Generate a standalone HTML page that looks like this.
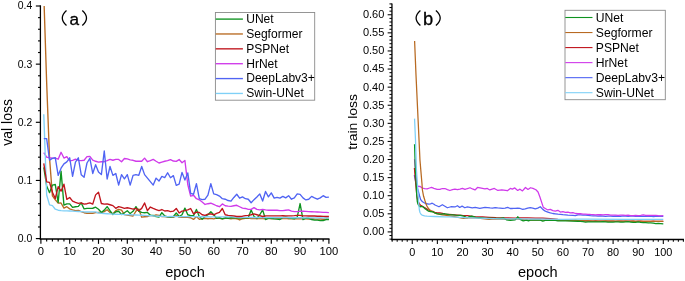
<!DOCTYPE html>
<html><head><meta charset="utf-8"><title>loss curves</title>
<style>
html,body{margin:0;padding:0;background:#fff;}
body{width:685px;height:281px;position:relative;overflow:hidden;font-family:"Liberation Sans",sans-serif;}
</style></head><body>
<svg width="685" height="281" viewBox="0 0 685 281" style="position:absolute;left:0;top:0;will-change:transform;opacity:0.9999">
<rect width="685" height="281" fill="#fff"/>
<defs><clipPath id="ca"><rect x="40.9" y="6" width="289" height="232.6"/></clipPath><clipPath id="cb"><rect x="391.9" y="3" width="293" height="236.5"/></clipPath></defs>
<g clip-path="url(#ca)">
<polyline points="43.78,-5.63 46.66,82.76 49.54,158.00 52.42,195.86 55.30,199.76 58.18,203.13 61.06,203.01 63.94,208.13 66.82,206.73 69.70,208.89 72.58,209.87 75.46,210.69 78.34,210.40 81.22,211.68 84.10,212.72 86.98,213.25 89.86,213.25 92.74,213.25 95.62,212.67 98.50,212.43 101.38,212.72 104.26,211.56 107.14,209.76 110.02,212.43 112.90,213.77 115.78,210.69 118.66,209.35 121.54,210.22 124.42,214.64 127.30,215.11 130.18,215.57 133.06,215.98 135.94,211.10 138.82,208.94 141.70,217.20 144.58,216.79 147.46,216.50 150.34,215.34 153.22,215.92 156.10,214.87 158.98,215.34 161.86,216.68 164.74,216.50 167.62,217.20 170.50,217.38 173.38,217.38 176.26,215.63 179.14,217.08 182.02,217.38 184.90,217.08 187.78,217.38 190.66,217.78 193.54,219.41 196.42,216.50 199.30,219.24 202.18,218.83 205.06,218.25 207.94,218.71 210.82,218.36 213.70,218.83 216.58,218.13 219.46,218.42 222.34,218.71 225.22,218.25 228.10,218.42 230.98,218.71 233.86,218.42 236.74,218.71 239.62,219.99 242.50,218.71 245.38,218.42 248.26,218.13 251.14,218.60 254.02,218.42 256.90,218.71 259.78,218.25 262.66,218.60 265.54,218.71 268.42,218.42 271.30,218.71 274.18,218.60 277.06,218.42 279.94,218.71 282.82,218.60 285.70,218.42 288.58,218.71 291.46,218.83 294.34,218.71 297.22,218.60 300.10,218.71 302.98,218.83 305.86,218.71 308.74,219.00 311.62,218.71 314.50,219.00 317.38,219.18 320.26,219.00 323.14,219.29 326.02,219.18 328.90,219.29" fill="none" stroke="#b86a22" stroke-width="1.35" stroke-linejoin="round" stroke-linecap="butt"/>
<polyline points="43.78,167.31 46.66,185.97 49.54,192.66 52.42,185.10 55.30,184.52 58.18,202.55 61.06,171.15 63.94,205.16 66.82,203.94 69.70,203.83 72.58,207.43 75.46,206.73 78.34,206.44 81.22,202.90 84.10,208.94 86.98,208.36 89.86,208.36 92.74,208.25 95.62,207.20 98.50,209.23 101.38,212.43 104.26,210.11 107.14,206.62 110.02,210.69 112.90,214.53 115.78,211.85 118.66,211.27 121.54,214.53 124.42,212.72 127.30,210.69 130.18,213.60 133.06,211.27 135.94,206.62 138.82,211.27 141.70,212.43 144.58,212.72 147.46,212.43 150.34,215.34 153.22,215.34 156.10,216.68 158.98,217.08 161.86,212.72 164.74,215.92 167.62,216.79 170.50,217.08 173.38,216.50 176.26,213.01 179.14,216.50 182.02,214.76 184.90,208.13 187.78,214.76 190.66,215.63 193.54,215.63 196.42,209.41 199.30,216.50 202.18,219.18 205.06,216.50 207.94,214.76 210.82,211.68 213.70,214.76 216.58,218.25 219.46,217.67 222.34,218.83 225.22,217.78 228.10,218.25 230.98,217.78 233.86,217.78 236.74,217.78 239.62,217.96 242.50,217.67 245.38,217.78 248.26,217.78 251.14,209.93 254.02,216.50 256.90,218.25 259.78,214.76 262.66,209.93 265.54,219.53 268.42,218.25 271.30,218.25 274.18,218.83 277.06,219.12 279.94,219.53 282.82,217.43 285.70,217.08 288.58,217.78 291.46,218.25 294.34,218.83 297.22,217.08 300.10,203.54 302.98,219.53 305.86,218.25 308.74,218.25 311.62,219.53 314.50,220.05 317.38,220.05 320.26,220.57 323.14,220.57 326.02,219.53 328.90,219.53" fill="none" stroke="#0e9320" stroke-width="1.35" stroke-linejoin="round" stroke-linecap="butt"/>
<polyline points="43.78,152.54 46.66,157.19 49.54,157.77 52.42,158.06 55.30,158.06 58.18,159.23 61.06,152.31 63.94,158.06 66.82,156.61 69.70,160.85 72.58,160.33 75.46,159.23 78.34,160.33 81.22,160.68 84.10,160.27 86.98,156.61 89.86,156.32 92.74,160.10 95.62,161.26 98.50,162.13 101.38,161.73 104.26,161.73 107.14,160.68 110.02,159.40 112.90,160.27 115.78,159.40 118.66,159.40 121.54,161.73 124.42,158.47 127.30,158.93 130.18,159.92 133.06,160.27 135.94,161.26 138.82,161.26 141.70,161.26 144.58,158.12 147.46,161.73 150.34,160.68 153.22,159.40 156.10,161.26 158.98,163.00 161.86,162.07 164.74,161.26 167.62,160.68 170.50,159.57 173.38,161.03 176.26,161.38 179.14,159.57 182.02,162.77 184.90,160.50 187.78,184.52 190.66,196.15 193.54,195.28 196.42,198.71 199.30,199.81 202.18,201.97 205.06,204.47 207.94,203.71 210.82,203.24 213.70,204.47 216.58,205.75 219.46,206.73 222.34,203.94 225.22,205.75 228.10,206.15 230.98,206.44 233.86,205.75 236.74,205.28 239.62,206.73 242.50,208.13 245.38,208.48 248.26,209.41 251.14,209.41 254.02,207.61 256.90,209.41 259.78,209.93 262.66,209.41 265.54,209.93 268.42,210.28 271.30,210.28 274.18,210.28 277.06,210.28 279.94,210.63 282.82,210.63 285.70,210.28 288.58,209.93 291.46,211.15 294.34,211.68 297.22,211.68 300.10,211.15 302.98,211.27 305.86,211.39 308.74,211.56 311.62,211.73 314.50,211.85 317.38,211.97 320.26,212.14 323.14,212.32 326.02,212.43 328.90,212.61" fill="none" stroke="#d03aea" stroke-width="1.35" stroke-linejoin="round" stroke-linecap="butt"/>
<polyline points="43.78,114.16 46.66,194.99 49.54,204.87 52.42,205.63 55.30,209.23 58.18,210.22 61.06,210.57 63.94,210.80 66.82,210.92 69.70,211.04 72.58,211.20 75.46,211.36 78.34,211.52 81.22,211.68 84.10,211.82 86.98,211.97 89.86,211.91 92.74,211.85 95.62,211.85 98.50,213.01 101.38,213.30 104.26,213.51 107.14,213.71 110.02,213.92 112.90,214.12 115.78,214.23 118.66,214.34 121.54,214.45 124.42,214.56 127.30,214.67 130.18,214.78 133.06,214.89 135.94,215.00 138.82,215.11 141.70,215.26 144.58,215.42 147.46,215.58 150.34,215.74 153.22,215.89 156.10,216.05 158.98,216.21 161.86,216.36 164.74,216.52 167.62,216.68 170.50,216.50 173.38,216.52 176.26,216.55 179.14,216.57 182.02,216.59 184.90,216.61 187.78,216.63 190.66,216.65 193.54,216.67 196.42,216.69 199.30,216.71 202.18,216.74 205.06,216.76 207.94,216.78 210.82,216.80 213.70,216.82 216.58,216.84 219.46,216.86 222.34,216.88 225.22,216.90 228.10,216.93 230.98,216.95 233.86,216.97 236.74,217.38 239.62,217.39 242.50,217.41 245.38,217.43 248.26,217.45 251.14,217.47 254.02,217.48 256.90,217.50 259.78,217.52 262.66,217.54 265.54,217.56 268.42,217.58 271.30,217.59 274.18,217.61 277.06,217.63 279.94,217.65 282.82,217.67 285.70,217.68 288.58,217.70 291.46,217.72 294.34,217.74 297.22,217.76 300.10,217.78 302.98,217.79 305.86,217.81 308.74,217.83 311.62,217.85 314.50,217.87 317.38,217.88 320.26,217.90 323.14,217.92 326.02,217.94 328.90,217.96" fill="none" stroke="#7fd0f7" stroke-width="1.35" stroke-linejoin="round" stroke-linecap="butt"/>
<polyline points="43.78,163.30 46.66,181.79 49.54,182.37 52.42,192.20 55.30,198.48 58.18,186.61 61.06,191.15 63.94,184.17 66.82,199.35 69.70,197.55 72.58,201.09 75.46,202.37 78.34,203.42 81.22,202.90 84.10,204.12 86.98,203.71 89.86,202.90 92.74,204.12 95.62,194.87 98.50,192.20 101.38,203.48 104.26,204.18 107.14,203.83 110.02,204.76 112.90,205.63 115.78,208.36 118.66,206.62 121.54,207.43 124.42,208.36 127.30,207.78 130.18,208.36 133.06,209.18 135.94,208.36 138.82,210.69 141.70,208.36 144.58,202.95 147.46,210.69 150.34,207.02 153.22,208.36 156.10,209.52 158.98,210.69 161.86,209.52 164.74,210.98 167.62,210.69 170.50,211.68 173.38,211.15 176.26,208.48 179.14,212.96 182.02,211.15 184.90,210.63 187.78,209.93 190.66,208.48 193.54,213.83 196.42,212.08 199.30,212.43 202.18,214.76 205.06,215.34 207.94,214.18 210.82,213.83 213.70,214.76 216.58,213.48 219.46,212.43 222.34,208.48 225.22,214.76 228.10,215.34 230.98,215.63 233.86,215.92 236.74,216.50 239.62,216.50 242.50,216.21 245.38,215.63 248.26,215.34 251.14,214.76 254.02,213.83 256.90,214.76 259.78,215.63 262.66,216.50 265.54,215.92 268.42,215.92 271.30,215.81 274.18,215.81 277.06,215.92 279.94,215.81 282.82,215.63 285.70,215.81 288.58,215.92 291.46,215.81 294.34,215.63 297.22,215.34 300.10,215.34 302.98,215.92 305.86,215.92 308.74,216.04 311.62,215.92 314.50,216.04 317.38,216.21 320.26,216.21 323.14,216.39 326.02,216.50 328.90,216.50" fill="none" stroke="#c0141c" stroke-width="1.35" stroke-linejoin="round" stroke-linecap="butt"/>
<polyline points="43.78,138.58 46.66,138.58 49.54,160.10 52.42,158.35 55.30,157.77 58.18,175.39 61.06,168.24 63.94,163.82 66.82,161.84 69.70,157.77 72.58,176.38 75.46,162.13 78.34,157.77 81.22,174.63 84.10,177.19 86.98,163.00 89.86,158.35 92.74,173.47 95.62,164.75 98.50,171.90 101.38,174.63 104.26,151.03 107.14,179.00 110.02,166.49 112.90,175.39 115.78,173.47 118.66,185.10 121.54,174.63 124.42,178.88 127.30,174.63 130.18,185.10 133.06,175.33 135.94,174.63 138.82,175.33 141.70,166.49 144.58,174.63 147.46,178.12 150.34,181.61 153.22,185.10 156.10,178.12 158.98,181.03 161.86,176.38 164.74,177.54 167.62,172.77 170.50,177.78 173.38,175.62 176.26,185.39 179.14,184.17 182.02,172.43 184.90,180.10 187.78,172.95 190.66,193.36 193.54,194.23 196.42,183.59 199.30,198.71 202.18,199.64 205.06,199.23 207.94,195.16 210.82,183.59 213.70,193.88 216.58,194.58 219.46,196.03 222.34,198.71 225.22,199.23 228.10,200.51 230.98,201.21 233.86,197.43 236.74,194.23 239.62,198.19 242.50,196.91 245.38,198.71 248.26,199.23 251.14,202.78 254.02,199.64 256.90,196.91 259.78,193.88 262.66,201.04 265.54,191.50 268.42,196.91 271.30,192.84 274.18,198.19 277.06,197.43 279.94,198.19 282.82,196.38 285.70,197.89 288.58,195.69 291.46,199.23 294.34,197.89 297.22,193.88 300.10,194.41 302.98,197.89 305.86,199.93 308.74,199.23 311.62,196.38 314.50,197.89 317.38,199.23 320.26,197.89 323.14,195.69 326.02,197.43 328.90,197.08" fill="none" stroke="#5064f3" stroke-width="1.35" stroke-linejoin="round" stroke-linecap="butt"/>
</g>
<g stroke="#000" stroke-width="1.15" fill="none" stroke-linecap="butt">
<line x1="40.40" y1="5.3" x2="40.40" y2="239.65" stroke-width="1.3"/>
<line x1="39.75" y1="239.00" x2="329.5" y2="239.00" stroke-width="1.3"/>
<line x1="35.85" y1="238.60" x2="40.40" y2="238.60"/>
<line x1="38.05" y1="226.97" x2="40.40" y2="226.97"/>
<line x1="38.05" y1="215.34" x2="40.40" y2="215.34"/>
<line x1="38.05" y1="203.71" x2="40.40" y2="203.71"/>
<line x1="38.05" y1="192.08" x2="40.40" y2="192.08"/>
<line x1="35.85" y1="180.45" x2="40.40" y2="180.45"/>
<line x1="38.05" y1="168.82" x2="40.40" y2="168.82"/>
<line x1="38.05" y1="157.19" x2="40.40" y2="157.19"/>
<line x1="38.05" y1="145.56" x2="40.40" y2="145.56"/>
<line x1="38.05" y1="133.93" x2="40.40" y2="133.93"/>
<line x1="35.85" y1="122.30" x2="40.40" y2="122.30"/>
<line x1="38.05" y1="110.67" x2="40.40" y2="110.67"/>
<line x1="38.05" y1="99.04" x2="40.40" y2="99.04"/>
<line x1="38.05" y1="87.41" x2="40.40" y2="87.41"/>
<line x1="38.05" y1="75.78" x2="40.40" y2="75.78"/>
<line x1="35.85" y1="64.15" x2="40.40" y2="64.15"/>
<line x1="38.05" y1="52.52" x2="40.40" y2="52.52"/>
<line x1="38.05" y1="40.89" x2="40.40" y2="40.89"/>
<line x1="38.05" y1="29.26" x2="40.40" y2="29.26"/>
<line x1="38.05" y1="17.63" x2="40.40" y2="17.63"/>
<line x1="35.85" y1="6.00" x2="40.40" y2="6.00"/>
<line x1="40.90" y1="239.00" x2="40.90" y2="243.85"/>
<line x1="46.66" y1="239.00" x2="46.66" y2="241.40"/>
<line x1="52.42" y1="239.00" x2="52.42" y2="241.40"/>
<line x1="58.18" y1="239.00" x2="58.18" y2="241.40"/>
<line x1="63.94" y1="239.00" x2="63.94" y2="241.40"/>
<line x1="69.70" y1="239.00" x2="69.70" y2="243.85"/>
<line x1="75.46" y1="239.00" x2="75.46" y2="241.40"/>
<line x1="81.22" y1="239.00" x2="81.22" y2="241.40"/>
<line x1="86.98" y1="239.00" x2="86.98" y2="241.40"/>
<line x1="92.74" y1="239.00" x2="92.74" y2="241.40"/>
<line x1="98.50" y1="239.00" x2="98.50" y2="243.85"/>
<line x1="104.26" y1="239.00" x2="104.26" y2="241.40"/>
<line x1="110.02" y1="239.00" x2="110.02" y2="241.40"/>
<line x1="115.78" y1="239.00" x2="115.78" y2="241.40"/>
<line x1="121.54" y1="239.00" x2="121.54" y2="241.40"/>
<line x1="127.30" y1="239.00" x2="127.30" y2="243.85"/>
<line x1="133.06" y1="239.00" x2="133.06" y2="241.40"/>
<line x1="138.82" y1="239.00" x2="138.82" y2="241.40"/>
<line x1="144.58" y1="239.00" x2="144.58" y2="241.40"/>
<line x1="150.34" y1="239.00" x2="150.34" y2="241.40"/>
<line x1="156.10" y1="239.00" x2="156.10" y2="243.85"/>
<line x1="161.86" y1="239.00" x2="161.86" y2="241.40"/>
<line x1="167.62" y1="239.00" x2="167.62" y2="241.40"/>
<line x1="173.38" y1="239.00" x2="173.38" y2="241.40"/>
<line x1="179.14" y1="239.00" x2="179.14" y2="241.40"/>
<line x1="184.90" y1="239.00" x2="184.90" y2="243.85"/>
<line x1="190.66" y1="239.00" x2="190.66" y2="241.40"/>
<line x1="196.42" y1="239.00" x2="196.42" y2="241.40"/>
<line x1="202.18" y1="239.00" x2="202.18" y2="241.40"/>
<line x1="207.94" y1="239.00" x2="207.94" y2="241.40"/>
<line x1="213.70" y1="239.00" x2="213.70" y2="243.85"/>
<line x1="219.46" y1="239.00" x2="219.46" y2="241.40"/>
<line x1="225.22" y1="239.00" x2="225.22" y2="241.40"/>
<line x1="230.98" y1="239.00" x2="230.98" y2="241.40"/>
<line x1="236.74" y1="239.00" x2="236.74" y2="241.40"/>
<line x1="242.50" y1="239.00" x2="242.50" y2="243.85"/>
<line x1="248.26" y1="239.00" x2="248.26" y2="241.40"/>
<line x1="254.02" y1="239.00" x2="254.02" y2="241.40"/>
<line x1="259.78" y1="239.00" x2="259.78" y2="241.40"/>
<line x1="265.54" y1="239.00" x2="265.54" y2="241.40"/>
<line x1="271.30" y1="239.00" x2="271.30" y2="243.85"/>
<line x1="277.06" y1="239.00" x2="277.06" y2="241.40"/>
<line x1="282.82" y1="239.00" x2="282.82" y2="241.40"/>
<line x1="288.58" y1="239.00" x2="288.58" y2="241.40"/>
<line x1="294.34" y1="239.00" x2="294.34" y2="241.40"/>
<line x1="300.10" y1="239.00" x2="300.10" y2="243.85"/>
<line x1="305.86" y1="239.00" x2="305.86" y2="241.40"/>
<line x1="311.62" y1="239.00" x2="311.62" y2="241.40"/>
<line x1="317.38" y1="239.00" x2="317.38" y2="241.40"/>
<line x1="323.14" y1="239.00" x2="323.14" y2="241.40"/>
<line x1="328.90" y1="239.00" x2="328.90" y2="243.85"/>
</g>
<g stroke="#000" stroke-width="1.05" fill="none" stroke-linecap="butt">
<line x1="391.95" y1="3.4" x2="391.95" y2="240.15" stroke-width="1.3"/>
<line x1="391.30" y1="239.50" x2="683.96" y2="239.50" stroke-width="1.3"/>
<line x1="389.45" y1="239.14" x2="391.95" y2="239.14"/>
<line x1="389.45" y1="235.52" x2="391.95" y2="235.52"/>
<line x1="387.65" y1="231.90" x2="391.95" y2="231.90"/>
<line x1="389.45" y1="228.28" x2="391.95" y2="228.28"/>
<line x1="389.45" y1="224.66" x2="391.95" y2="224.66"/>
<line x1="389.45" y1="221.04" x2="391.95" y2="221.04"/>
<line x1="389.45" y1="217.42" x2="391.95" y2="217.42"/>
<line x1="387.65" y1="213.81" x2="391.95" y2="213.81"/>
<line x1="389.45" y1="210.19" x2="391.95" y2="210.19"/>
<line x1="389.45" y1="206.57" x2="391.95" y2="206.57"/>
<line x1="389.45" y1="202.95" x2="391.95" y2="202.95"/>
<line x1="389.45" y1="199.33" x2="391.95" y2="199.33"/>
<line x1="387.65" y1="195.71" x2="391.95" y2="195.71"/>
<line x1="389.45" y1="192.09" x2="391.95" y2="192.09"/>
<line x1="389.45" y1="188.47" x2="391.95" y2="188.47"/>
<line x1="389.45" y1="184.85" x2="391.95" y2="184.85"/>
<line x1="389.45" y1="181.23" x2="391.95" y2="181.23"/>
<line x1="387.65" y1="177.62" x2="391.95" y2="177.62"/>
<line x1="389.45" y1="174.00" x2="391.95" y2="174.00"/>
<line x1="389.45" y1="170.38" x2="391.95" y2="170.38"/>
<line x1="389.45" y1="166.76" x2="391.95" y2="166.76"/>
<line x1="389.45" y1="163.14" x2="391.95" y2="163.14"/>
<line x1="387.65" y1="159.52" x2="391.95" y2="159.52"/>
<line x1="389.45" y1="155.90" x2="391.95" y2="155.90"/>
<line x1="389.45" y1="152.28" x2="391.95" y2="152.28"/>
<line x1="389.45" y1="148.66" x2="391.95" y2="148.66"/>
<line x1="389.45" y1="145.04" x2="391.95" y2="145.04"/>
<line x1="387.65" y1="141.43" x2="391.95" y2="141.43"/>
<line x1="389.45" y1="137.81" x2="391.95" y2="137.81"/>
<line x1="389.45" y1="134.19" x2="391.95" y2="134.19"/>
<line x1="389.45" y1="130.57" x2="391.95" y2="130.57"/>
<line x1="389.45" y1="126.95" x2="391.95" y2="126.95"/>
<line x1="387.65" y1="123.33" x2="391.95" y2="123.33"/>
<line x1="389.45" y1="119.71" x2="391.95" y2="119.71"/>
<line x1="389.45" y1="116.09" x2="391.95" y2="116.09"/>
<line x1="389.45" y1="112.47" x2="391.95" y2="112.47"/>
<line x1="389.45" y1="108.85" x2="391.95" y2="108.85"/>
<line x1="387.65" y1="105.23" x2="391.95" y2="105.23"/>
<line x1="389.45" y1="101.62" x2="391.95" y2="101.62"/>
<line x1="389.45" y1="98.00" x2="391.95" y2="98.00"/>
<line x1="389.45" y1="94.38" x2="391.95" y2="94.38"/>
<line x1="389.45" y1="90.76" x2="391.95" y2="90.76"/>
<line x1="387.65" y1="87.14" x2="391.95" y2="87.14"/>
<line x1="389.45" y1="83.52" x2="391.95" y2="83.52"/>
<line x1="389.45" y1="79.90" x2="391.95" y2="79.90"/>
<line x1="389.45" y1="76.28" x2="391.95" y2="76.28"/>
<line x1="389.45" y1="72.66" x2="391.95" y2="72.66"/>
<line x1="387.65" y1="69.05" x2="391.95" y2="69.05"/>
<line x1="389.45" y1="65.43" x2="391.95" y2="65.43"/>
<line x1="389.45" y1="61.81" x2="391.95" y2="61.81"/>
<line x1="389.45" y1="58.19" x2="391.95" y2="58.19"/>
<line x1="389.45" y1="54.57" x2="391.95" y2="54.57"/>
<line x1="387.65" y1="50.95" x2="391.95" y2="50.95"/>
<line x1="389.45" y1="47.33" x2="391.95" y2="47.33"/>
<line x1="389.45" y1="43.71" x2="391.95" y2="43.71"/>
<line x1="389.45" y1="40.09" x2="391.95" y2="40.09"/>
<line x1="389.45" y1="36.47" x2="391.95" y2="36.47"/>
<line x1="387.65" y1="32.85" x2="391.95" y2="32.85"/>
<line x1="389.45" y1="29.24" x2="391.95" y2="29.24"/>
<line x1="389.45" y1="25.62" x2="391.95" y2="25.62"/>
<line x1="389.45" y1="22.00" x2="391.95" y2="22.00"/>
<line x1="389.45" y1="18.38" x2="391.95" y2="18.38"/>
<line x1="387.65" y1="14.76" x2="391.95" y2="14.76"/>
<line x1="389.45" y1="11.14" x2="391.95" y2="11.14"/>
<line x1="389.45" y1="7.52" x2="391.95" y2="7.52"/>
<line x1="389.45" y1="3.90" x2="391.95" y2="3.90"/>
<line x1="392.17" y1="239.50" x2="392.17" y2="241.70"/>
<line x1="397.19" y1="239.50" x2="397.19" y2="241.70"/>
<line x1="402.21" y1="239.50" x2="402.21" y2="241.70"/>
<line x1="407.23" y1="239.50" x2="407.23" y2="241.70"/>
<line x1="412.25" y1="239.50" x2="412.25" y2="243.90"/>
<line x1="417.27" y1="239.50" x2="417.27" y2="241.70"/>
<line x1="422.29" y1="239.50" x2="422.29" y2="241.70"/>
<line x1="427.31" y1="239.50" x2="427.31" y2="241.70"/>
<line x1="432.33" y1="239.50" x2="432.33" y2="241.70"/>
<line x1="437.36" y1="239.50" x2="437.36" y2="243.90"/>
<line x1="442.38" y1="239.50" x2="442.38" y2="241.70"/>
<line x1="447.40" y1="239.50" x2="447.40" y2="241.70"/>
<line x1="452.42" y1="239.50" x2="452.42" y2="241.70"/>
<line x1="457.44" y1="239.50" x2="457.44" y2="241.70"/>
<line x1="462.46" y1="239.50" x2="462.46" y2="243.90"/>
<line x1="467.48" y1="239.50" x2="467.48" y2="241.70"/>
<line x1="472.50" y1="239.50" x2="472.50" y2="241.70"/>
<line x1="477.52" y1="239.50" x2="477.52" y2="241.70"/>
<line x1="482.54" y1="239.50" x2="482.54" y2="241.70"/>
<line x1="487.56" y1="239.50" x2="487.56" y2="243.90"/>
<line x1="492.59" y1="239.50" x2="492.59" y2="241.70"/>
<line x1="497.61" y1="239.50" x2="497.61" y2="241.70"/>
<line x1="502.63" y1="239.50" x2="502.63" y2="241.70"/>
<line x1="507.65" y1="239.50" x2="507.65" y2="241.70"/>
<line x1="512.67" y1="239.50" x2="512.67" y2="243.90"/>
<line x1="517.69" y1="239.50" x2="517.69" y2="241.70"/>
<line x1="522.71" y1="239.50" x2="522.71" y2="241.70"/>
<line x1="527.73" y1="239.50" x2="527.73" y2="241.70"/>
<line x1="532.75" y1="239.50" x2="532.75" y2="241.70"/>
<line x1="537.77" y1="239.50" x2="537.77" y2="243.90"/>
<line x1="542.80" y1="239.50" x2="542.80" y2="241.70"/>
<line x1="547.82" y1="239.50" x2="547.82" y2="241.70"/>
<line x1="552.84" y1="239.50" x2="552.84" y2="241.70"/>
<line x1="557.86" y1="239.50" x2="557.86" y2="241.70"/>
<line x1="562.88" y1="239.50" x2="562.88" y2="243.90"/>
<line x1="567.90" y1="239.50" x2="567.90" y2="241.70"/>
<line x1="572.92" y1="239.50" x2="572.92" y2="241.70"/>
<line x1="577.94" y1="239.50" x2="577.94" y2="241.70"/>
<line x1="582.96" y1="239.50" x2="582.96" y2="241.70"/>
<line x1="587.99" y1="239.50" x2="587.99" y2="243.90"/>
<line x1="593.01" y1="239.50" x2="593.01" y2="241.70"/>
<line x1="598.03" y1="239.50" x2="598.03" y2="241.70"/>
<line x1="603.05" y1="239.50" x2="603.05" y2="241.70"/>
<line x1="608.07" y1="239.50" x2="608.07" y2="241.70"/>
<line x1="613.09" y1="239.50" x2="613.09" y2="243.90"/>
<line x1="618.11" y1="239.50" x2="618.11" y2="241.70"/>
<line x1="623.13" y1="239.50" x2="623.13" y2="241.70"/>
<line x1="628.15" y1="239.50" x2="628.15" y2="241.70"/>
<line x1="633.17" y1="239.50" x2="633.17" y2="241.70"/>
<line x1="638.19" y1="239.50" x2="638.19" y2="243.90"/>
<line x1="643.22" y1="239.50" x2="643.22" y2="241.70"/>
<line x1="648.24" y1="239.50" x2="648.24" y2="241.70"/>
<line x1="653.26" y1="239.50" x2="653.26" y2="241.70"/>
<line x1="658.28" y1="239.50" x2="658.28" y2="241.70"/>
<line x1="663.30" y1="239.50" x2="663.30" y2="243.90"/>
<line x1="668.32" y1="239.50" x2="668.32" y2="241.70"/>
<line x1="673.34" y1="239.50" x2="673.34" y2="241.70"/>
<line x1="678.36" y1="239.50" x2="678.36" y2="241.70"/>
<line x1="683.38" y1="239.50" x2="683.38" y2="241.70"/>
</g>
<g clip-path="url(#cb)">
<polyline points="414.30,175.10 416.00,183.00 417.50,188.50 418.50,191.80 419.60,196.00 420.60,199.50 422.50,201.80 425.40,203.50 428.80,204.10 430.50,203.80 432.20,203.20 434.00,204.20 435.00,204.97 438.99,206.74 442.38,204.75 447.40,207.76 450.91,206.74 454.93,206.96 457.44,205.76 459.70,207.47 462.08,206.16 464.87,207.76 467.36,206.96 472.25,207.94 475.26,207.47 479.78,208.45 485.05,207.47 487.56,207.58 490.08,207.94 492.59,208.12 495.10,207.58 497.61,207.94 500.12,208.12 502.63,208.49 505.14,208.12 507.65,207.40 510.16,208.49 512.67,208.49 515.18,208.31 517.69,208.12 520.20,208.49 522.71,209.39 525.22,208.85 527.73,208.12 530.24,207.62 532.75,208.12 535.26,208.85 537.77,208.12 540.29,206.71 542.80,209.39 545.31,211.17 547.82,212.04 550.33,212.95 552.84,213.50 555.35,213.86 557.86,214.19 560.37,214.37 562.88,214.73 567.90,215.09 572.92,215.27 575.43,215.64 577.94,214.84 580.45,214.95 582.96,215.03 585.47,215.05 587.99,215.42 590.50,215.70 593.01,215.84 595.52,215.90 598.03,216.22 600.54,215.95 603.05,216.17 605.56,216.38 608.07,216.17 610.58,216.15 613.09,216.40 615.60,216.08 618.11,216.42 620.62,216.42 623.13,215.99 625.64,216.18 628.15,216.27 630.66,216.24 633.17,216.22 635.68,216.41 638.19,216.24 640.71,216.29 643.22,216.48 645.73,216.28 648.24,216.39 650.75,216.22 653.26,216.50 655.77,216.43 658.28,216.25 660.79,216.19 663.30,216.43" fill="none" stroke="#5064f3" stroke-width="1.27" stroke-linejoin="round" stroke-linecap="butt"/>
<polyline points="414.50,159.20 415.50,171.00 416.80,182.00 417.50,185.50 418.00,186.30 420.20,186.50 422.20,188.00 424.60,188.60 427.10,188.80 429.60,188.00 431.60,187.40 433.90,188.30 437.15,189.30 439.87,189.36 442.38,188.52 444.89,188.52 447.40,189.57 449.91,190.52 452.42,189.61 454.93,189.07 457.44,189.61 459.95,189.07 462.46,188.34 464.97,189.43 467.48,188.52 469.99,187.76 472.50,188.96 475.01,189.94 477.52,187.47 480.03,187.94 484.93,188.96 487.31,188.45 489.82,189.94 494.34,188.45 497.86,190.45 501.87,189.76 507.40,190.74 510.34,188.45 512.32,189.14 514.80,187.94 517.69,190.45 520.00,189.17 522.46,190.95 525.47,187.47 527.98,189.47 530.49,187.76 532.93,188.45 535.92,189.76 538.03,191.97 539.91,196.94 543.30,207.40 545.31,208.49 547.82,209.94 550.33,209.39 552.84,210.66 555.35,211.17 557.86,210.30 560.37,212.04 562.88,211.72 565.39,212.41 567.90,212.04 570.41,212.95 572.92,212.59 575.43,213.50 577.94,213.75 580.45,213.57 582.96,214.04 585.47,214.17 587.99,214.29 590.50,214.44 593.01,214.53 595.52,214.85 598.03,214.55 600.54,214.75 603.05,214.92 605.56,214.65 608.07,214.63 610.58,215.07 613.09,215.16 615.60,215.09 618.11,215.29 620.62,215.12 623.13,215.17 625.64,215.26 628.15,215.19 630.66,215.55 633.17,215.53 635.68,215.36 638.19,215.54 640.71,215.40 643.22,214.98 645.73,215.37 648.24,215.50 650.75,215.30 653.26,215.48 655.77,215.36 658.28,215.63 660.79,215.83 663.30,215.69" fill="none" stroke="#d03aea" stroke-width="1.27" stroke-linejoin="round" stroke-linecap="butt"/>
<polyline points="414.40,168.00 415.90,186.00 416.80,195.00 417.60,199.50 418.50,202.00 419.60,204.20 421.00,205.60 422.50,206.40 424.00,207.20 425.40,208.10 428.20,209.90 430.50,210.80 432.80,211.30 434.60,212.40 437.15,212.80 439.87,212.99 442.38,213.28 444.89,214.19 452.42,214.69 457.44,215.02 462.46,215.42 467.48,215.56 475.77,216.76 482.54,216.76 489.07,217.27 496.10,217.74 506.39,217.78 515.18,218.03 520.20,217.78 527.73,217.92 535.26,218.11 542.80,218.11 550.33,218.65 557.86,219.49 560.37,219.63 562.88,219.96 565.39,220.02 567.90,220.37 570.41,220.36 572.92,220.34 575.43,220.49 577.94,220.64 580.45,220.59 582.96,220.85 585.47,220.85 587.99,220.96 590.50,221.10 593.01,221.04 595.52,220.98 598.03,221.03 600.54,221.14 603.05,221.13 605.56,221.19 608.07,221.12 610.58,221.19 613.09,221.10 615.60,221.26 618.11,221.21 620.62,221.20 623.13,221.25 625.64,221.12 628.15,221.15 630.66,221.24 633.17,221.15 635.68,221.27 638.19,221.13 640.71,221.24 643.22,221.31 645.73,221.33 648.24,221.35 650.75,221.41 653.26,221.25 655.77,221.34 658.28,221.44 660.79,221.32 663.30,221.32" fill="none" stroke="#c0141c" stroke-width="1.27" stroke-linejoin="round" stroke-linecap="butt"/>
<polyline points="414.60,41.00 416.00,75.00 418.20,122.00 419.95,160.00 420.80,170.00 422.00,184.00 422.40,190.00 423.60,196.30 424.90,200.50 425.90,203.40 426.90,206.00 427.90,207.60 428.60,208.80 430.50,210.50 434.70,213.00 437.15,213.90 442.38,214.84 444.89,215.20 455.43,216.76 463.46,218.29 469.99,217.74 475.77,217.78 482.54,218.65 489.07,219.30 495.10,218.83 500.12,219.01 507.65,219.38 515.18,218.83 525.22,219.82 527.73,219.93 530.24,220.08 532.75,220.03 535.26,220.02 537.77,220.03 540.29,220.16 542.80,220.15 545.31,220.21 547.82,220.26 550.33,220.31 552.84,220.32 555.35,220.29 557.86,220.31 560.37,220.42 562.88,220.42 565.39,220.48 567.90,220.53 570.41,220.58 572.92,220.52 575.43,220.50 577.94,220.62 580.45,220.62 582.96,220.68 585.47,220.89 587.99,220.91 590.50,220.86 593.01,221.10 595.52,221.06 598.03,221.04 600.54,221.06 603.05,221.11 605.56,221.00 608.07,221.07 610.58,221.02 613.09,221.09 615.60,221.24 618.11,221.22 620.62,221.18 623.13,221.28 625.64,221.12 628.15,221.34 630.66,221.27 633.17,221.18 635.68,221.37 638.19,221.32 640.71,221.29 643.22,221.28 645.73,221.38 648.24,221.39 650.75,221.37 653.26,221.34 655.77,221.40 658.28,221.34 660.79,221.28 663.30,221.34" fill="none" stroke="#b86a22" stroke-width="1.27" stroke-linejoin="round" stroke-linecap="butt"/>
<polyline points="414.55,144.30 415.20,165.00 416.20,184.00 416.75,196.00 417.30,201.70 417.80,203.70 418.60,205.30 420.00,206.80 421.20,206.30 422.50,206.60 424.00,207.80 425.40,209.10 428.20,211.10 430.50,211.50 432.80,211.80 434.60,212.80 437.15,213.70 439.87,214.04 442.38,214.04 444.89,213.75 449.15,214.69 455.43,215.20 460.45,215.42 464.47,216.29 467.10,217.78 469.49,216.65 471.75,216.04 475.77,217.27 480.03,217.74 486.06,218.29 490.08,218.11 495.10,218.40 500.12,218.29 503.38,217.78 506.39,219.81 510.41,220.32 512.67,220.10 515.18,219.81 516.69,218.11 517.69,216.76 519.20,218.47 520.20,219.38 523.21,220.83 526.48,220.10 528.49,220.83 530.24,220.14 540.29,220.14 542.80,221.12 545.31,220.36 555.35,220.43 557.86,220.83 567.90,220.83 572.92,221.08 577.94,221.25 580.45,221.33 582.96,221.68 585.47,222.08 587.99,221.85 590.50,221.92 593.01,221.92 595.52,221.91 598.03,221.83 600.54,221.85 603.05,221.71 605.56,221.90 608.07,222.18 610.58,222.01 613.09,222.02 615.60,221.92 618.11,221.94 620.62,222.09 623.13,222.03 625.64,221.89 628.15,221.70 630.66,222.02 633.17,222.31 635.68,222.33 638.19,221.94 640.71,222.33 643.22,222.62 645.73,222.64 648.24,222.99 650.75,222.87 653.26,223.01 655.77,223.55 658.28,223.47 660.79,223.61 663.30,223.87" fill="none" stroke="#0e9320" stroke-width="1.27" stroke-linejoin="round" stroke-linecap="butt"/>
<polyline points="414.55,118.60 415.50,140.00 416.45,170.00 417.50,185.00 418.40,198.00 418.85,205.00 419.30,209.50 420.00,212.50 421.00,214.30 422.00,215.10 424.60,215.90 427.10,216.20 434.70,216.50 444.89,216.76 449.91,216.94 464.97,217.74 485.05,218.47 500.12,218.76 515.18,218.87 545.31,219.12 562.88,219.38 577.94,219.12 587.99,219.12 625.64,219.34 663.30,219.45" fill="none" stroke="#7fd0f7" stroke-width="1.27" stroke-linejoin="round" stroke-linecap="butt"/>
</g>
<g font-family="Liberation Sans, sans-serif" fill="#000" font-size="11px">
<text transform="translate(32.30,242.05) scale(0.950,1)" text-anchor="end">0.0</text>
<text transform="translate(32.30,183.90) scale(0.950,1)" text-anchor="end">0.1</text>
<text transform="translate(32.30,125.75) scale(0.950,1)" text-anchor="end">0.2</text>
<text transform="translate(32.30,67.60) scale(0.950,1)" text-anchor="end">0.3</text>
<text transform="translate(32.30,9.45) scale(0.950,1)" text-anchor="end">0.4</text>
<text transform="translate(40.90,255.20) scale(1.020,1)" text-anchor="middle">0</text>
<text transform="translate(69.70,255.20) scale(1.020,1)" text-anchor="middle">10</text>
<text transform="translate(98.50,255.20) scale(1.020,1)" text-anchor="middle">20</text>
<text transform="translate(127.30,255.20) scale(1.020,1)" text-anchor="middle">30</text>
<text transform="translate(156.10,255.20) scale(1.020,1)" text-anchor="middle">40</text>
<text transform="translate(184.90,255.20) scale(1.020,1)" text-anchor="middle">50</text>
<text transform="translate(213.70,255.20) scale(1.020,1)" text-anchor="middle">60</text>
<text transform="translate(242.50,255.20) scale(1.020,1)" text-anchor="middle">70</text>
<text transform="translate(271.30,255.20) scale(1.020,1)" text-anchor="middle">80</text>
<text transform="translate(300.10,255.20) scale(1.020,1)" text-anchor="middle">90</text>
<text transform="translate(328.90,255.20) scale(1.020,1)" text-anchor="middle">100</text>
<text transform="translate(384.30,235.30) scale(1.000,1)" text-anchor="end">0.00</text>
<text transform="translate(384.30,217.21) scale(1.000,1)" text-anchor="end">0.05</text>
<text transform="translate(384.30,199.11) scale(1.000,1)" text-anchor="end">0.10</text>
<text transform="translate(384.30,181.02) scale(1.000,1)" text-anchor="end">0.15</text>
<text transform="translate(384.30,162.92) scale(1.000,1)" text-anchor="end">0.20</text>
<text transform="translate(384.30,144.83) scale(1.000,1)" text-anchor="end">0.25</text>
<text transform="translate(384.30,126.73) scale(1.000,1)" text-anchor="end">0.30</text>
<text transform="translate(384.30,108.64) scale(1.000,1)" text-anchor="end">0.35</text>
<text transform="translate(384.30,90.54) scale(1.000,1)" text-anchor="end">0.40</text>
<text transform="translate(384.30,72.45) scale(1.000,1)" text-anchor="end">0.45</text>
<text transform="translate(384.30,54.35) scale(1.000,1)" text-anchor="end">0.50</text>
<text transform="translate(384.30,36.25) scale(1.000,1)" text-anchor="end">0.55</text>
<text transform="translate(384.30,18.16) scale(1.000,1)" text-anchor="end">0.60</text>
<text transform="translate(412.25,255.50) scale(0.990,1)" text-anchor="middle">0</text>
<text transform="translate(437.36,255.50) scale(0.990,1)" text-anchor="middle">10</text>
<text transform="translate(462.46,255.50) scale(0.990,1)" text-anchor="middle">20</text>
<text transform="translate(487.56,255.50) scale(0.990,1)" text-anchor="middle">30</text>
<text transform="translate(512.67,255.50) scale(0.990,1)" text-anchor="middle">40</text>
<text transform="translate(537.77,255.50) scale(0.990,1)" text-anchor="middle">50</text>
<text transform="translate(562.88,255.50) scale(0.990,1)" text-anchor="middle">60</text>
<text transform="translate(587.99,255.50) scale(0.990,1)" text-anchor="middle">70</text>
<text transform="translate(613.09,255.50) scale(0.990,1)" text-anchor="middle">80</text>
<text transform="translate(638.19,255.50) scale(0.990,1)" text-anchor="middle">90</text>
<text transform="translate(663.30,255.50) scale(0.990,1)" text-anchor="middle">100</text>
</g>
<g font-family="Liberation Sans, sans-serif" fill="#000" font-size="14px">
<text transform="translate(185.00,276.80) scale(1.040,1)" text-anchor="middle">epoch</text>
<text transform="translate(537.80,276.80) scale(1.040,1)" text-anchor="middle">epoch</text>
<text transform="translate(11.8,122.4) rotate(-90)" text-anchor="middle">val loss</text>
<text transform="translate(356.6,121.9) rotate(-90) scale(1.075,1)" text-anchor="middle" font-size="13px">train loss</text>
</g>
<g font-family="Liberation Sans, sans-serif" fill="#000" font-size="18px" stroke="#000" stroke-width="0.3">
<text x="74.4" y="24.9" text-anchor="middle" font-size="17.2px">a</text>
<text x="428.1" y="25.0" text-anchor="middle" font-size="18.3px">b</text>
</g>
<g stroke="#000" stroke-width="1.3" fill="none">
<path d="M66.5 10.4 Q58.1 18.0 66.5 25.6"/><path d="M82.3 10.4 Q90.7 18.0 82.3 25.6"/>
<path d="M420.4 10.4 Q411.8 18.0 420.4 25.6"/><path d="M435.9 10.4 Q444.5 18.0 435.9 25.6"/>
</g>
<rect x="215.40" y="12.50" width="99.30" height="87.70" fill="#fff" stroke="#8a8a8a" stroke-width="0.9"/>
<line x1="215.70" y1="19.10" x2="242.90" y2="19.10" stroke="#0e9320" stroke-width="1.35"/>
<text x="246.20" y="22.90" font-family="Liberation Sans, sans-serif" fill="#000" font-size="12.05px">UNet</text>
<line x1="215.70" y1="33.97" x2="242.90" y2="33.97" stroke="#b86a22" stroke-width="1.35"/>
<text x="246.20" y="37.77" font-family="Liberation Sans, sans-serif" fill="#000" font-size="12.05px">Segformer</text>
<line x1="215.70" y1="48.84" x2="242.90" y2="48.84" stroke="#c0141c" stroke-width="1.35"/>
<text x="246.20" y="52.64" font-family="Liberation Sans, sans-serif" fill="#000" font-size="12.05px">PSPNet</text>
<line x1="215.70" y1="63.71" x2="242.90" y2="63.71" stroke="#d03aea" stroke-width="1.35"/>
<text x="246.20" y="67.51" font-family="Liberation Sans, sans-serif" fill="#000" font-size="12.05px">HrNet</text>
<line x1="215.70" y1="78.58" x2="242.90" y2="78.58" stroke="#5064f3" stroke-width="1.35"/>
<text x="246.20" y="82.38" font-family="Liberation Sans, sans-serif" fill="#000" font-size="12.05px">DeepLabv3+</text>
<line x1="215.70" y1="93.45" x2="242.90" y2="93.45" stroke="#7fd0f7" stroke-width="1.35"/>
<text x="246.20" y="97.25" font-family="Liberation Sans, sans-serif" fill="#000" font-size="12.05px">Swin-UNet</text>
<rect x="565.00" y="10.30" width="100.30" height="89.40" fill="#fff" stroke="#8a8a8a" stroke-width="0.9"/>
<line x1="565.30" y1="17.50" x2="592.50" y2="17.50" stroke="#0e9320" stroke-width="1.10"/>
<text x="595.80" y="22.10" font-family="Liberation Sans, sans-serif" fill="#000" font-size="12.15px">UNet</text>
<line x1="565.30" y1="32.54" x2="592.50" y2="32.54" stroke="#b86a22" stroke-width="1.10"/>
<text x="595.80" y="37.14" font-family="Liberation Sans, sans-serif" fill="#000" font-size="12.15px">Segformer</text>
<line x1="565.30" y1="47.58" x2="592.50" y2="47.58" stroke="#c0141c" stroke-width="1.10"/>
<text x="595.80" y="52.18" font-family="Liberation Sans, sans-serif" fill="#000" font-size="12.15px">PSPNet</text>
<line x1="565.30" y1="62.62" x2="592.50" y2="62.62" stroke="#d03aea" stroke-width="1.10"/>
<text x="595.80" y="67.22" font-family="Liberation Sans, sans-serif" fill="#000" font-size="12.15px">HrNet</text>
<line x1="565.30" y1="77.66" x2="592.50" y2="77.66" stroke="#5064f3" stroke-width="1.10"/>
<text x="595.80" y="82.26" font-family="Liberation Sans, sans-serif" fill="#000" font-size="12.15px">DeepLabv3+</text>
<line x1="565.30" y1="92.70" x2="592.50" y2="92.70" stroke="#7fd0f7" stroke-width="1.10"/>
<text x="595.80" y="97.30" font-family="Liberation Sans, sans-serif" fill="#000" font-size="12.15px">Swin-UNet</text>
</svg>
</body></html>
